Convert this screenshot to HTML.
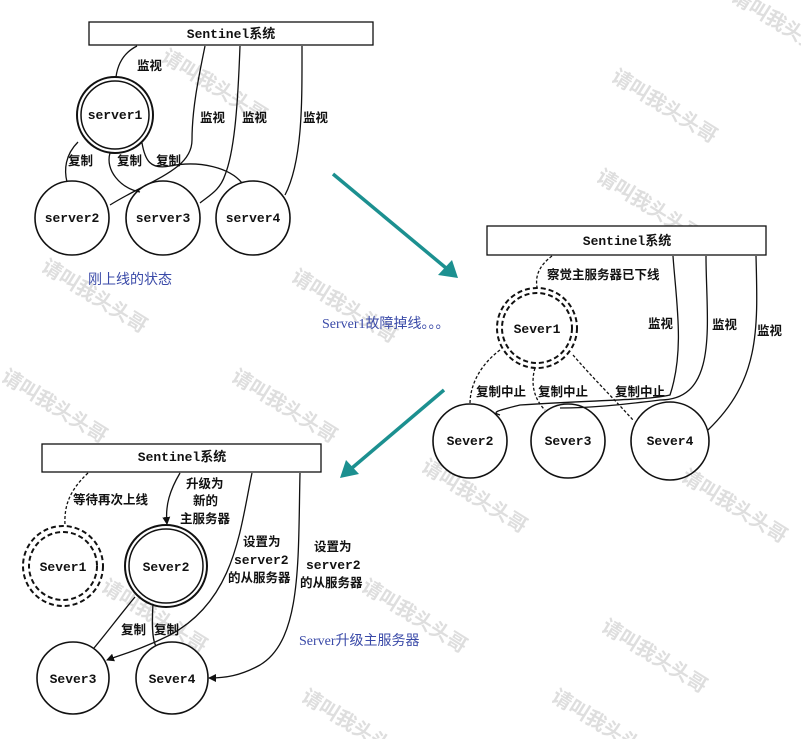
<!DOCTYPE html>
<html><head><meta charset="utf-8"><style>
html,body{margin:0;padding:0;background:#fff;}
svg{display:block;}
.m{font-family:"Liberation Mono","Noto Sans CJK SC",monospace;font-weight:bold;font-size:13px;fill:#111;}
.c{font-family:"Liberation Sans","Noto Sans CJK SC",sans-serif;font-weight:bold;font-size:12.5px;fill:#111;}
.b{font-family:"Liberation Serif","Noto Sans CJK SC",serif;font-size:14px;fill:#3a4aa8;}
.w{font-family:"Liberation Sans","Noto Sans CJK SC",sans-serif;font-weight:bold;font-size:20px;fill:#dedede;}
</style></head><body>
<svg width="801" height="739" viewBox="0 0 801 739" xmlns="http://www.w3.org/2000/svg">
<defs>
<marker id="ah" markerWidth="8" markerHeight="8" refX="7" refY="4" orient="auto" markerUnits="userSpaceOnUse"><path d="M0,0 L8,4 L0,8 z" fill="#111"/></marker>
</defs>
<g class="w">
<text transform="translate(160,60) rotate(32)">请叫我头头哥</text>
<text transform="translate(610,80) rotate(32)">请叫我头头哥</text>
<text transform="translate(595,180) rotate(32)">请叫我头头哥</text>
<text transform="translate(40,270) rotate(32)">请叫我头头哥</text>
<text transform="translate(290,280) rotate(32)">请叫我头头哥</text>
<text transform="translate(230,380) rotate(32)">请叫我头头哥</text>
<text transform="translate(420,470) rotate(32)">请叫我头头哥</text>
<text transform="translate(680,480) rotate(32)">请叫我头头哥</text>
<text transform="translate(100,590) rotate(32)">请叫我头头哥</text>
<text transform="translate(360,590) rotate(32)">请叫我头头哥</text>
<text transform="translate(600,630) rotate(32)">请叫我头头哥</text>
<text transform="translate(300,700) rotate(32)">请叫我头头哥</text>
<text transform="translate(550,700) rotate(32)">请叫我头头哥</text>
<text transform="translate(0,380) rotate(32)">请叫我头头哥</text>
<text transform="translate(730,0) rotate(32)">请叫我头头哥</text>
</g>
<g fill="none" stroke="#111" stroke-width="1.3">
<rect x="89" y="22" width="284" height="23" fill="#fff"/>
<circle cx="115" cy="115" r="38" stroke-width="2"/>
<circle cx="115" cy="115" r="34" stroke-width="1.5"/>
<circle cx="72" cy="218" r="37" stroke-width="1.6"/>
<circle cx="163" cy="218" r="37" stroke-width="1.6"/>
<circle cx="253" cy="218" r="37" stroke-width="1.6"/>
<path d="M137,46 C125,52 118,62 116,77"/>
<path d="M205,46 C198,80 192,110 192,140 C192,170 150,180 110,205"/>
<path d="M240,46 C238,100 235,150 225,175 C220,190 210,195 200,203"/>
<path d="M302,46 C302,100 303,160 285,195"/>
<path d="M78,142 C65,155 64,170 67,182"/>
<path d="M110,153 C105,170 120,188 140,192"/>
<path d="M142,143 C145,160 150,170 170,166 C200,160 230,168 242,183"/>
<rect x="487" y="226" width="279" height="29" fill="#fff"/>
<circle cx="537" cy="328" r="40" stroke-width="2" stroke-dasharray="5,3"/>
<circle cx="537" cy="328" r="35" stroke-width="2" stroke-dasharray="5,3"/>
<circle cx="470" cy="441" r="37" stroke-width="1.6"/>
<circle cx="568" cy="441" r="37" stroke-width="1.6"/>
<circle cx="670" cy="441" r="39" stroke-width="1.6"/>
<path d="M552,256 C540,265 535,275 537,287" stroke-dasharray="3,2"/>
<path d="M673,256 C676,300 685,350 670,395 C650,400 600,400 520,405 C500,410 490,412 500,415"/>
<path d="M706,256 C706,320 720,400 660,400 C620,405 590,408 560,408"/>
<path d="M756,256 C758,330 760,380 708,430"/>
<path d="M500,350 C480,365 470,385 470,404" stroke-dasharray="3,2"/>
<path d="M535,368 C530,385 535,400 545,410" stroke-dasharray="3,2"/>
<path d="M573,355 C590,375 615,400 633,420" stroke-dasharray="3,2"/>
<rect x="42" y="444" width="279" height="28" fill="#fff"/>
<circle cx="63" cy="566" r="40" stroke-width="2" stroke-dasharray="5,3"/>
<circle cx="63" cy="566" r="34" stroke-width="2" stroke-dasharray="5,3"/>
<circle cx="166" cy="566" r="41" stroke-width="2"/>
<circle cx="166" cy="566" r="37" stroke-width="1.5"/>
<circle cx="73" cy="678" r="36" stroke-width="1.6"/>
<circle cx="172" cy="678" r="36" stroke-width="1.6"/>
<path d="M88,473 C70,490 64,505 65,525" stroke-dasharray="3,2"/>
<path d="M180,473 C170,490 165,505 167,524" marker-end="url(#ah)"/>
<path d="M252,473 C240,530 235,600 170,635 C140,650 120,655 107,660" marker-end="url(#ah)"/>
<path d="M300,473 C298,560 302,640 260,665 C240,676 225,678 209,678" marker-end="url(#ah)"/>
<path d="M135,597 C120,615 105,635 94,648"/>
<path d="M153,604 C152,620 152,640 156,646"/>
</g>
<g stroke="#1c9090" stroke-width="3.5" fill="#1c9090">
<line x1="333" y1="174" x2="446" y2="268"/>
<polygon points="458,278 438,275 452,260" stroke="none"/>
<line x1="444" y1="390" x2="352" y2="468"/>
<polygon points="340,478 346,460 359,474" stroke="none"/>
</g>
<text class="m" x="231" y="38" text-anchor="middle">Sentinel系统</text>
<text class="m" x="115" y="119" text-anchor="middle">server1</text>
<text class="m" x="72" y="222" text-anchor="middle">server2</text>
<text class="m" x="163" y="222" text-anchor="middle">server3</text>
<text class="m" x="253" y="222" text-anchor="middle">server4</text>
<text class="c" x="137" y="70">监视</text>
<text class="c" x="200" y="122">监视</text>
<text class="c" x="242" y="122">监视</text>
<text class="c" x="303" y="122">监视</text>
<text class="c" x="68" y="165">复制</text>
<text class="c" x="117" y="165">复制</text>
<text class="c" x="156" y="165">复制</text>
<text class="b" x="88" y="284">刚上线的状态</text>

<text class="m" x="627" y="245" text-anchor="middle">Sentinel系统</text>
<text class="m" x="537" y="333" text-anchor="middle">Sever1</text>
<text class="m" x="470" y="445" text-anchor="middle">Sever2</text>
<text class="m" x="568" y="445" text-anchor="middle">Sever3</text>
<text class="m" x="670" y="445" text-anchor="middle">Sever4</text>
<text class="c" x="547" y="279">察觉主服务器已下线</text>
<text class="c" x="648" y="328">监视</text>
<text class="c" x="712" y="329">监视</text>
<text class="c" x="757" y="335">监视</text>
<text class="c" x="476" y="396">复制中止</text>
<text class="c" x="538" y="396">复制中止</text>
<text class="c" x="615" y="396">复制中止</text>
<text class="b" x="322" y="328">Server1故障掉线。。。</text>

<text class="m" x="182" y="461" text-anchor="middle">Sentinel系统</text>
<text class="m" x="63" y="571" text-anchor="middle">Sever1</text>
<text class="m" x="166" y="571" text-anchor="middle">Sever2</text>
<text class="m" x="73" y="683" text-anchor="middle">Sever3</text>
<text class="m" x="172" y="683" text-anchor="middle">Sever4</text>
<text class="c" x="73" y="504">等待再次上线</text>
<text class="c" x="186" y="488">升级为</text>
<text class="c" x="193" y="505">新的</text>
<text class="c" x="180" y="523">主服务器</text>
<text class="c" x="243" y="546">设置为</text>
<text class="m" x="234" y="564">server2</text>
<text class="c" x="228" y="582">的从服务器</text>
<text class="c" x="314" y="551">设置为</text>
<text class="m" x="306" y="569">server2</text>
<text class="c" x="300" y="587">的从服务器</text>
<text class="c" x="121" y="634">复制</text>
<text class="c" x="154" y="634">复制</text>
<text class="b" x="299" y="645">Server升级主服务器</text>
</svg>
</body></html>
